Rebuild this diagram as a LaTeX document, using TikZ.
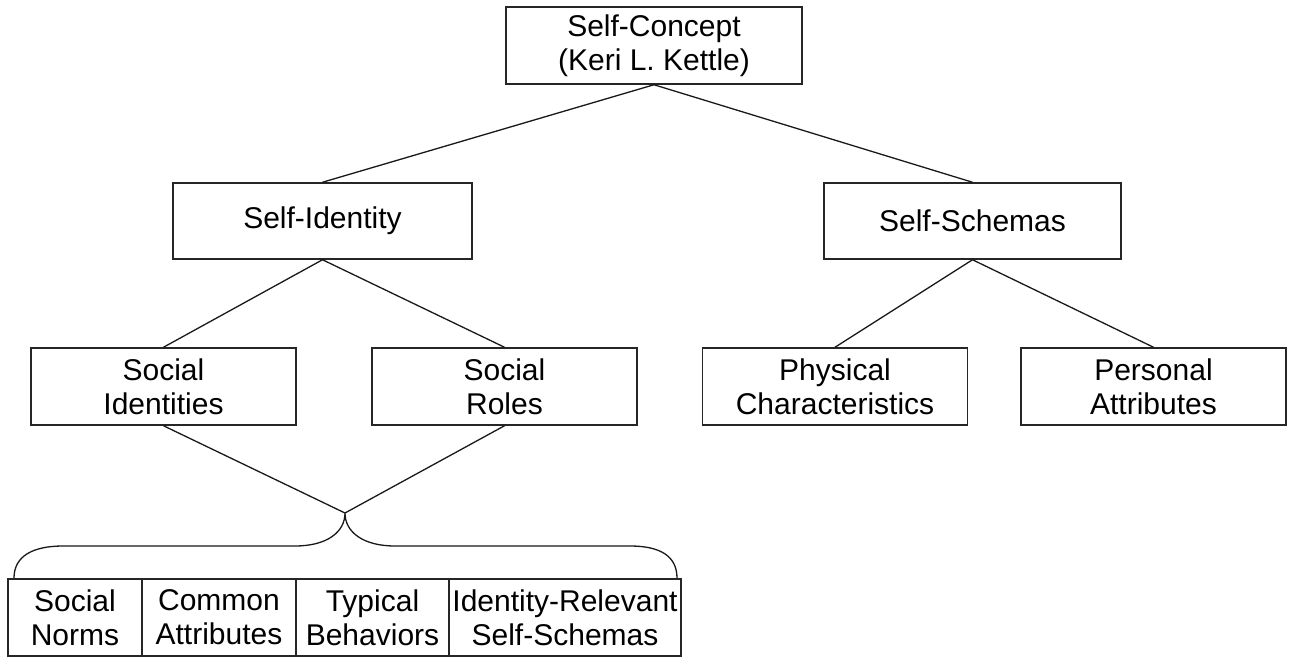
\documentclass[tikz,border=0pt]{standalone}
\usepackage{fontspec}
\setmainfont{Liberation Sans}
\begin{document}
\begin{tikzpicture}[x=1pt,y=-1pt,
  box/.style={draw=black!85,line width=1.5pt,rectangle,inner sep=0pt,align=center,
    font=\fontsize{30}{34}\selectfont,minimum height=77pt},
  conn/.style={draw=black!90,line width=1.3pt}]
\useasboundingbox (0,0) rectangle (1291,658);
\node[box,minimum width=296pt] (top) at (654,45.5) {Self-Concept\\(Keri L. Kettle)};
\node[box,minimum width=299pt,minimum height=76pt] (sid) at (322.5,221) {Self-Identity};
\node[box,minimum width=297pt,minimum height=76pt] (ssc) at (972.5,221) {Self-Schemas};
\node[box,minimum width=265pt] (soi) at (163.5,386.5) {Social\\Identities};
\node[box,minimum width=265pt] (sor) at (504.5,386.5) {Social\\Roles};
\node[box,minimum width=265pt] (phy) at (835,386.5) {Physical\\Characteristics};
\node[box,minimum width=265pt] (per) at (1153.5,386.5) {Personal\\Attributes};
\node[box,minimum width=134pt] (c1) at (75,617.5) {Social\\Norms};
\node[box,minimum width=154pt] (c2) at (219,617.5) {Common\\Attributes};
\node[box,minimum width=153pt] (c3) at (372.5,617.5) {Typical\\Behaviors};
\node[box,minimum width=232pt] (c4) at (565,617.5) {Identity-Relevant\\Self-Schemas};
\draw[conn] (sid.north) -- (top.south) -- (ssc.north);
\draw[conn] (soi.north) -- (sid.south) -- (sor.north);
\draw[conn] (phy.north) -- (ssc.south) -- (per.north);
\coordinate (apex) at (345,513);
\coordinate (bl) at (14,578);
\coordinate (br) at (677,578);
\coordinate (hl1) at (63,546);
\coordinate (hl2) at (295,546);
\coordinate (hr1) at (395,546);
\coordinate (hr2) at (630,546);
\draw[conn] (soi.south) -- (apex) -- (sor.south);
\draw[conn] (bl) .. controls (14,556) and (33,546) .. (hl1) -- (hl2)
  .. controls (327,546) and (345,532) .. (apex)
  .. controls (345,532) and (363,546) .. (hr1) -- (hr2)
  .. controls (660,546) and (677,556) .. (br);
\end{tikzpicture}
\end{document}
